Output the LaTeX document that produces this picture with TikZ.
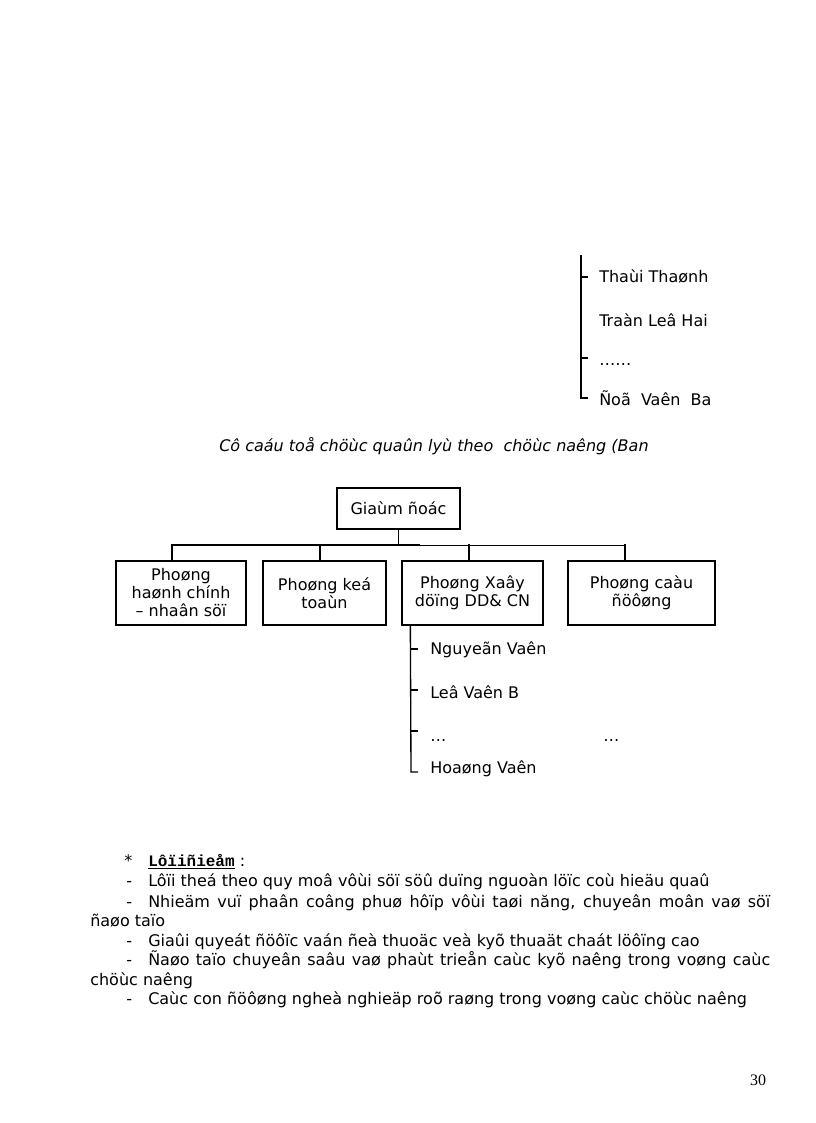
\documentclass[tikz,border=0pt]{standalone}
\usepackage{fontspec}
\setmainfont{DejaVu Sans}
\newfontfamily\pagefont{Liberation Serif}
\newfontfamily\headfont{Liberation Mono}
\usetikzlibrary{positioning}

\begin{document}
\begin{tikzpicture}[
      x=0.75pt, y=-0.75pt,
      every node/.style={font=\fontsize{12}{13.5}\selectfont, inner sep=0pt},
      box/.style={draw, line width=1pt, align=center, minimum height=48pt},
      link/.style={line width=1pt},
      thin link/.style={line width=0.6pt},
      item/.style={anchor=west},
      body/.style={anchor=west, text height=9pt, text depth=2.8pt}
  ]
    \useasboundingbox (0,0) rectangle (816,1123);

    % danh sach tren
    \coordinate (t0) at (581,255);
    \coordinate (t1) at (581,398);
    \draw[link] (t0) -- (t1) -- ++(7,0);
    \draw[link] (581,277) -- ++(7,0);
    \draw[link] (581,358) -- ++(7,0);
    \node[item] (n1) at (599,276) {Thaùi Thaønh};
    \node[item] (n2) at (599,320) {Traàn Leâ Hai};
    \node[item] (n3) at (599,365) {……};
    \node[item] (n4) at (599,398) {Ñoã\ \ Vaên\ \ Ba};

    \node[anchor=west, font=\fontsize{12}{13.5}\selectfont\itshape] (cap) at (219,446)
      {Cô caáu toå chöùc quaûn lyù theo\ \ chöùc naêng (Ban};

    % so do
    \node[box, minimum width=92.25pt, minimum height=30.75pt] (gd) at (398.5,508.5) {Giaùm ñoác};
    \node[box, minimum width=97.5pt]  (p1) at (181,593)   {Phoøng\\haønh chính\\– nhaân söï};
    \node[box, minimum width=92.25pt] (p2) at (324.5,593) {Phoøng keá\\toaùn};
    \node[box, minimum width=105.75pt] (p3) at (472.5,593) {Phoøng Xaây\\döïng DD\& CN};
    \node[box, minimum width=110.25pt] (p4) at (641.5,593) {Phoøng caàu\\ñöôøng};

    \draw[link] (gd.south) -- ++(0,16) coordinate (bus);
    \draw[link] (172,545) -- (420,545);
    \draw[thin link] (420,545) -- (625,545);
    \foreach \n/\dx in {p1/-9, p2/-4.5, p3/-3.5, p4/-16.5}
      \draw[link] (\n.north) ++(\dx,0) -- ++(0,-16);

    % danh sach duoi
    \draw[link] (p3.south west) ++(9,0) -- (411,772) -- ++(7,0);
    \foreach \y in {649,690,731}
      \draw[link] (411,\y) -- ++(7,0);
    \node[item] (m1) at (430,650) {Nguyeãn Vaên};
    \node[item] (m2) at (430,692) {Leâ Vaên B};
    \node[item] (m3) at (430,740) {…};
    \node[item] (m4) at (603,740) {…};
    \node[item] (m5) at (430,769) {Hoaøng Vaên};

    % uu diem
    \node[body] (s0) at (124,862) {*};
    \node[body] (h0) at (148,862) {{\headfont\bfseries\underline{Lôïiñieåm}} :};
    \foreach \y/\t in {882/{Lôïi theá theo quy moâ vôùi söï söû duïng nguoàn löïc coù hieäu quaû},
                       903/{\hbox to 466.5pt{Nhieäm vuï phaân coâng phuø hôïp vôùi taøi năng, chuyeân moân vaø söï}},
                       942/{Giaûi quyeát ñöôïc vaán ñeà thuoäc veà kyõ thuaät chaát löôïng cao},
                       961/{\hbox to 466.5pt{Ñaøo taïo chuyeân saâu vaø phaùt trieån caùc kyõ naêng trong voøng caùc}},
                       1000/{Caùc con ñöôøng ngheà nghieäp roõ raøng trong voøng caùc chöùc naêng}} {
      \node[body] at (126,\y) {-};
      \node[body] at (148,\y) {\t};
    }
    \node[body] (w1) at (90,922) {ñaøo taïo};
    \node[body] (w2) at (90,981) {chöùc naêng};

    \node[font=\pagefont\fontsize{12}{14}\selectfont] (pg) at (758,1080) {30};
  \end{tikzpicture}
\end{document}
